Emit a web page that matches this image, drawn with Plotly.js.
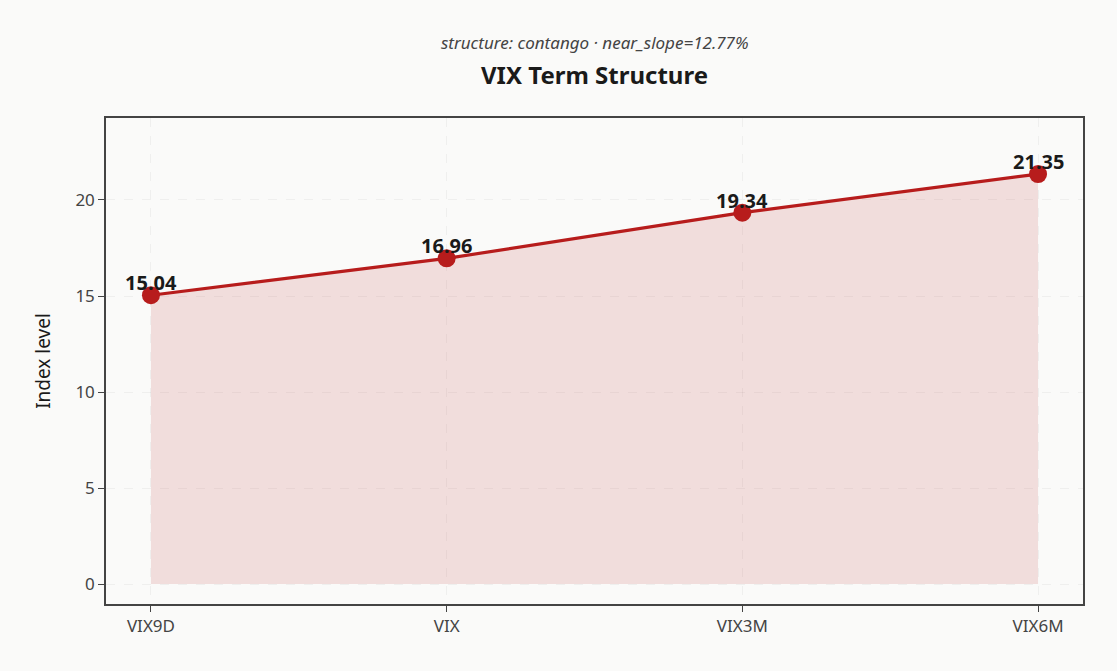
<!DOCTYPE html>
<html>
<head>
<meta charset="utf-8">
<script src="https://cdn.plot.ly/plotly-3.0.1.min.js"></script>
<style>
  html, body { margin: 0; padding: 0; background: #fafaf9; }
  #chart { width: 1117px; height: 671px; }
</style>
</head>
<body>
<div id="chart"></div>
<script>
// VIX futures-index term structure
const tenors = ['VIX9D', 'VIX', 'VIX3M', 'VIX6M'];
const levels = [15.04, 16.96, 19.34, 21.35];
const subtitle = 'structure: contango · near_slope=12.77%';

const red = '#b71c1c';

const labels = tenors.map((t, i) => ({
    x: t,
    y: levels[i],
    xref: 'x',
    yref: 'y',
    text: '<b>' + levels[i].toFixed(2) + '</b>',
    showarrow: false,
    yanchor: 'bottom',
    yshift: -3,
    font: { size: 20, color: '#1a1a1a' }
}));

Plotly.newPlot('chart', [{
    x: tenors,
    y: levels,
    type: 'scatter',
    mode: 'lines+markers',
    fill: 'tozeroy',
    fillcolor: 'rgba(183,28,28,0.13)',
    line: { color: red, width: 3.2 },
    marker: { color: red, size: 18 },
    hoverinfo: 'x+y'
}], {
    width: 1117,
    height: 671,
    paper_bgcolor: '#fafaf9',
    plot_bgcolor: '#fafaf9',
    font: { family: 'Noto Sans, Open Sans, sans-serif', color: '#444' },
    margin: { l: 106, r: 34, t: 118, b: 67 },
    showlegend: false,
    title: {
        text: '<b>VIX Term Structure</b>',
        font: { size: 24, color: '#1a1a1a' },
        x: 0.5, xref: 'paper',
        y: 1 - 76 / 671, yref: 'container', yanchor: 'middle'
    },
    xaxis: {
        range: [-0.152, 3.152],
        showline: true, mirror: true, linecolor: '#444', linewidth: 1.5,
        ticks: 'outside', ticklen: 6, tickcolor: '#444',
        showgrid: true, gridcolor: 'rgba(0,0,0,0.045)', griddash: 'dash',
        zeroline: false,
        tickfont: { size: 17, color: '#444' }
    },
    yaxis: {
        range: [-1.04, 24.27],
        tickvals: [0, 5, 10, 15, 20],
        showline: true, mirror: true, linecolor: '#444', linewidth: 1.5,
        ticks: 'outside', ticklen: 6, tickcolor: '#444',
        showgrid: true, gridcolor: 'rgba(0,0,0,0.045)', griddash: 'dash',
        zeroline: false,
        tickfont: { size: 17, color: '#444' },
        title: { text: 'Index level', font: { size: 19, color: '#1a1a1a' }, standoff: 20 }
    },
    annotations: labels.concat([{
        text: '<i>' + subtitle + '</i>',
        xref: 'paper', yref: 'paper',
        x: 0.5, y: 1, yanchor: 'middle', yshift: 76,
        showarrow: false,
        font: { size: 17, color: '#444' }
    }])
}, { displayModeBar: false });
</script>
</body>
</html>
